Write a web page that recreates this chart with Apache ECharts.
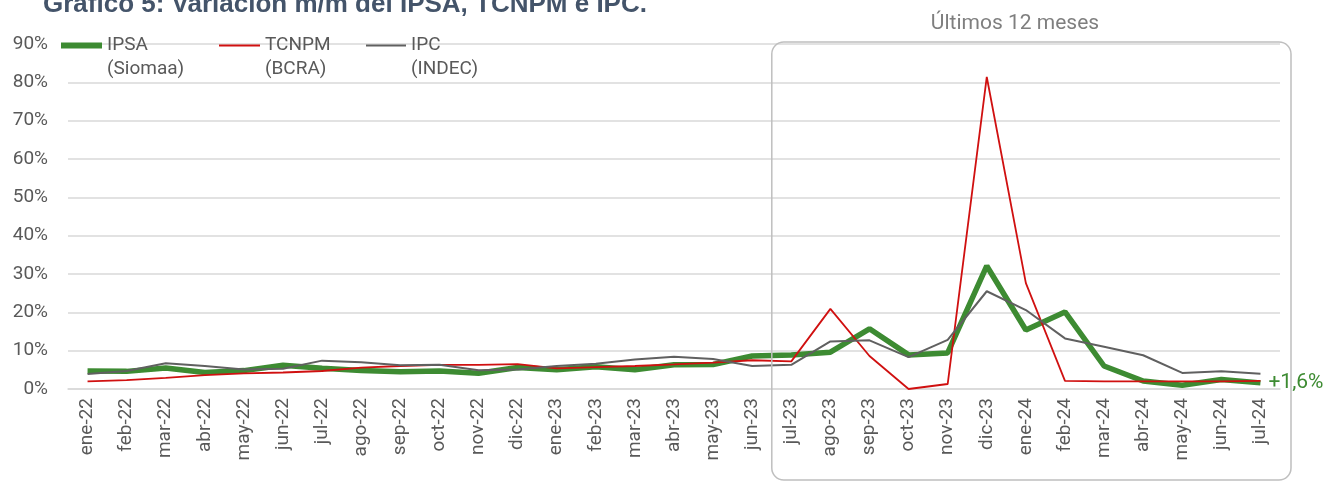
<!DOCTYPE html>
<html>
<head>
<meta charset="utf-8">
<script src="https://cdn.jsdelivr.net/npm/echarts@6/dist/echarts.min.js"></script>
<style>
  html, body { margin: 0; padding: 0; background: #fff; }
  #chart { width: 1327px; height: 483px; }
</style>
</head>
<body>
<div id="chart"></div>
<script>
// meses
const categories = [
  "ene-22", "feb-22", "mar-22", "abr-22", "may-22", "jun-22", "jul-22", "ago-22", "sep-22", "oct-22", "nov-22", "dic-22",
  "ene-23", "feb-23", "mar-23", "abr-23", "may-23", "jun-23", "jul-23", "ago-23", "sep-23", "oct-23", "nov-23", "dic-23",
  "ene-24", "feb-24", "mar-24", "abr-24", "may-24", "jun-24", "jul-24"
];
// variación mensual en %
const ipsa = [4.7, 4.6, 5.5, 4.3, 4.8, 6.2, 5.4, 4.8, 4.5, 4.7, 4.1, 5.6,
  5.0, 5.8, 5.0, 6.3, 6.4, 8.6, 8.9, 9.6, 15.7, 8.9, 9.4, 32.1,
  15.4, 20.1, 6.0, 2.1, 1.0, 2.5, 1.6];
const tcnpm = [2.0, 2.3, 2.9, 3.6, 4.1, 4.3, 4.7, 5.6, 6.0, 6.3, 6.3, 6.5,
  5.4, 5.7, 6.0, 6.4, 6.9, 7.5, 7.2, 20.9, 8.6, 0.0, 1.3, 81.4,
  27.6, 2.1, 2.0, 2.0, 2.0, 2.0, 2.1];
const ipc = [3.9, 4.7, 6.7, 6.0, 5.1, 5.3, 7.4, 7.0, 6.2, 6.3, 4.9, 5.1,
  6.0, 6.6, 7.7, 8.4, 7.8, 6.0, 6.3, 12.4, 12.7, 8.3, 12.8, 25.5,
  20.6, 13.2, 11.0, 8.8, 4.2, 4.6, 4.0];
const yTicks = [0, 10, 20, 30, 40, 50, 60, 70, 80, 90];

const GREEN = "#3d8b32";
const RED = "#d01010";
const GRAY = "#606060";
const TEXT = "#595959";

let myChart = echarts.init(document.getElementById("chart"));

function legendItem(name, left, width, height) {
  return {
    data: [name],
    left: left,
    top: 31,
    icon: "rect",
    itemWidth: width,
    itemHeight: height,
    textStyle: { color: TEXT, fontSize: 19, fontFamily: "Roboto" },
    selectedMode: false
  };
}

myChart.setOption({
  animation: false,
  textStyle: { fontFamily: "Roboto" },
  grid: { left: 68, right: 47, top: 44, bottom: 94 },
  legend: [
    legendItem("IPSA", 56, 41, 6),
    legendItem("TCNPM", 214, 41, 2),
    legendItem("IPC", 361, 40, 2)
  ],
  xAxis: {
    type: "category",
    data: categories,
    boundaryGap: true,
    axisLine: { lineStyle: { color: "#d9d9d9", width: 1.5 } },
    axisTick: { length: 7, lineStyle: { color: "#d9d9d9", width: 1.5 } },
    axisLabel: { rotate: 90, color: TEXT, fontSize: 19, margin: 9, interval: 0 }
  },
  yAxis: {
    type: "value",
    min: yTicks[0],
    max: yTicks[yTicks.length - 1],
    interval: 10,
    axisLine: { show: false },
    axisTick: { show: false },
    splitLine: { lineStyle: { color: "#d9d9d9", width: 1.5 } },
    axisLabel: { formatter: "{value}%", color: TEXT, fontSize: 19, margin: 20 }
  },
  series: [
    {
      name: "IPSA",
      type: "line",
      data: ipsa,
      symbol: "none",
      color: GREEN,
      lineStyle: { width: 5.5, color: GREEN },
      endLabel: {
        show: true,
        distance: 8,
        color: GREEN,
        fontSize: 21,
        formatter: p => "+" + p.value.toFixed(1).replace(".", ",") + "%"
      }
    },
    {
      name: "TCNPM",
      type: "line",
      data: tcnpm,
      symbol: "none",
      color: RED,
      lineStyle: { width: 1.8, color: RED }
    },
    {
      name: "IPC",
      type: "line",
      data: ipc,
      symbol: "none",
      color: GRAY,
      lineStyle: { width: 2, color: GRAY }
    }
  ]
});

// recuadro "Últimos 12 meses" y textos extra
const boxLeft = myChart.convertToPixel({ xAxisIndex: 0 }, "jul-23") - 19.5;
myChart.setOption({
  graphic: [
    {
      type: "text",
      style: {
        x: 43, y: 18, text: "Gráfico 5: Variación m/m del IPSA, TCNPM e IPC.",
        fill: "#44546a", font: "bold 26px 'Liberation Sans'", textVerticalAlign: "bottom"
      }
    },
    {
      type: "rect",
      shape: { x: boxLeft, y: 42, width: 1291 - boxLeft, height: 438, r: 12 },
      style: { fill: "none", stroke: "#bfbfbf", lineWidth: 1.5 },
      z: 10
    },
    {
      type: "text",
      style: { x: 1015, y: 24, text: "Últimos 12 meses", fill: "#7f7f7f", font: "21px Roboto", textAlign: "center", textVerticalAlign: "middle" }
    },
    { type: "text", style: { x: 107, y: 60, text: "(Siomaa)", fill: TEXT, font: "19px Roboto" } },
    { type: "text", style: { x: 265, y: 60, text: "(BCRA)", fill: TEXT, font: "19px Roboto" } },
    { type: "text", style: { x: 411, y: 60, text: "(INDEC)", fill: TEXT, font: "19px Roboto" } }
  ]
});
</script>
</body>
</html>
